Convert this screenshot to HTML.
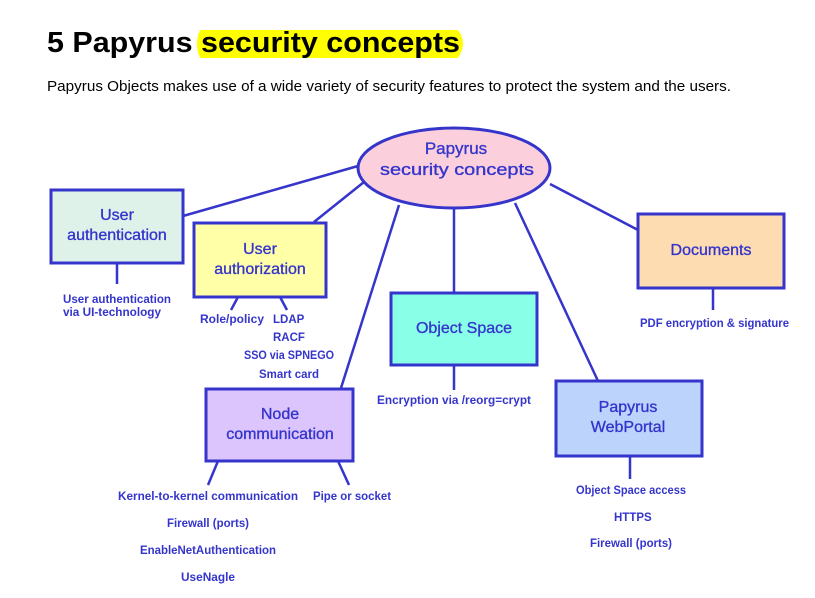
<!DOCTYPE html>
<html><head><meta charset="utf-8"><style>
body{margin:0;background:#fff;width:815px;height:598px;overflow:hidden}
</style></head><body>
<svg width="815" height="598" xmlns="http://www.w3.org/2000/svg" style="position:absolute;left:0;top:0">
<path d="M200 30 L458 30 Q468 43 458 58 L200 58 Q194 44 200 30Z" fill="#ffff00"/>
<text x="47" y="52" font-family="Liberation Sans, sans-serif" font-weight="bold" font-size="29" fill="#000" textLength="413" lengthAdjust="spacingAndGlyphs">5  Papyrus security concepts</text>
<text x="47" y="91" font-family="Liberation Sans, sans-serif" font-size="14.5" fill="#000" textLength="684" lengthAdjust="spacingAndGlyphs">Papyrus Objects makes use of a wide variety of security features to protect the system and the users.</text>
<g stroke="#3535cc" stroke-width="2.5" fill="none">
<line x1="358" y1="166" x2="183" y2="216"/>
<line x1="364" y1="182" x2="314" y2="222"/>
<line x1="399" y1="205" x2="341" y2="388"/>
<line x1="454" y1="208" x2="454" y2="292"/>
<line x1="515" y1="203" x2="598" y2="381"/>
<line x1="550" y1="184" x2="638" y2="230"/>
<line x1="117" y1="263" x2="117" y2="284"/>
<line x1="238" y1="297" x2="231" y2="310"/>
<line x1="280" y1="297" x2="287" y2="310"/>
<line x1="454" y1="365" x2="454" y2="390"/>
<line x1="713" y1="288" x2="713" y2="310"/>
<line x1="218" y1="461" x2="208" y2="485"/>
<line x1="338" y1="461" x2="349" y2="485"/>
<line x1="630" y1="456" x2="630" y2="479"/>
</g>
<g stroke="#3535cc" stroke-width="3">
<ellipse cx="454" cy="168" rx="96" ry="40" fill="#fbd0dc"/>
<rect x="51" y="190" width="132" height="73" fill="#dff2ea"/>
<rect x="194" y="223" width="132" height="74" fill="#ffffa8"/>
<rect x="391" y="293" width="146" height="72" fill="#88ffe6"/>
<rect x="638" y="214" width="146" height="74" fill="#fcdcb0"/>
<rect x="206" y="389" width="147" height="72" fill="#dcc4fc"/>
<rect x="556" y="381" width="146" height="75" fill="#bcd4fc"/>
</g>
<g font-family="Liberation Sans, sans-serif" fill="#3535cc" stroke="#3535cc" stroke-width="0.35" text-anchor="middle" font-size="16">
<text x="456" y="154" font-size="17">Papyrus</text>
<text x="457" y="175" font-size="17" textLength="154" lengthAdjust="spacingAndGlyphs">security concepts</text>
<text x="117" y="220">User</text>
<text x="117" y="240">authentication</text>
<text x="260" y="254">User</text>
<text x="260" y="274">authorization</text>
<text x="464" y="333">Object Space</text>
<text x="711" y="255">Documents</text>
<text x="280" y="419">Node</text>
<text x="280" y="439">communication</text>
<text x="628" y="412">Papyrus</text>
<text x="628" y="432">WebPortal</text>
</g>
<g font-family="Liberation Sans, sans-serif" fill="#3535cc" font-size="11.5" font-weight="bold">
<text x="63" y="303" textLength="108" lengthAdjust="spacingAndGlyphs">User authentication</text>
<text x="63" y="316" textLength="98" lengthAdjust="spacingAndGlyphs">via UI-technology</text>
<text x="200" y="323" textLength="64" lengthAdjust="spacingAndGlyphs">Role/policy</text>
<text x="273" y="323">LDAP</text>
<text x="273" y="341">RACF</text>
<text x="244" y="359" textLength="90" lengthAdjust="spacingAndGlyphs">SSO via SPNEGO</text>
<text x="259" y="378" textLength="60" lengthAdjust="spacingAndGlyphs">Smart card</text>
<text x="377" y="404" textLength="154" lengthAdjust="spacingAndGlyphs">Encryption via /reorg=crypt</text>
<text x="640" y="327" textLength="149" lengthAdjust="spacingAndGlyphs">PDF encryption &amp; signature</text>
<text x="576" y="494" textLength="110" lengthAdjust="spacingAndGlyphs">Object Space access</text>
<text x="614" y="521">HTTPS</text>
<text x="590" y="547" textLength="82" lengthAdjust="spacingAndGlyphs">Firewall (ports)</text>
<text x="118" y="500" textLength="180" lengthAdjust="spacingAndGlyphs">Kernel-to-kernel communication</text>
<text x="313" y="500" textLength="78" lengthAdjust="spacingAndGlyphs">Pipe or socket</text>
<text x="167" y="527" textLength="82" lengthAdjust="spacingAndGlyphs">Firewall (ports)</text>
<text x="140" y="554" textLength="136" lengthAdjust="spacingAndGlyphs">EnableNetAuthentication</text>
<text x="181" y="581" textLength="54" lengthAdjust="spacingAndGlyphs">UseNagle</text>
</g>
</svg>
</body></html>
